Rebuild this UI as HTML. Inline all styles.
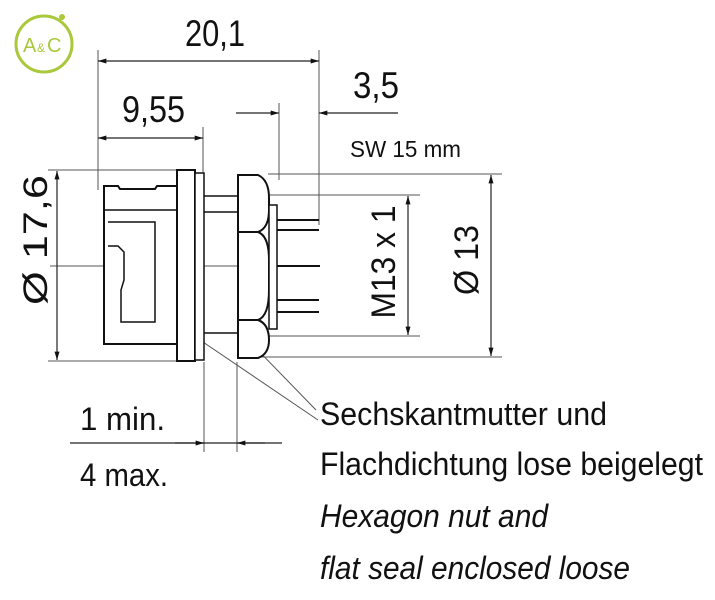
<!DOCTYPE html>
<html><head><meta charset="utf-8"><style>
body{margin:0;background:#fff;width:715px;height:600px;overflow:hidden}
svg{display:block}
text{font-family:"Liberation Sans Narrow","Liberation Sans",sans-serif;fill:#111}
</style></head><body>
<svg width="715" height="600" viewBox="0 0 715 600" xmlns="http://www.w3.org/2000/svg">
<defs>
<marker id="a" viewBox="0 0 10 6" refX="10" refY="3" markerWidth="14" markerHeight="5" orient="auto-start-reverse" markerUnits="userSpaceOnUse"><path d="M0,0L10,3L0,6z" fill="#111"/></marker>
</defs>
<circle cx="44" cy="44" r="28" fill="none" stroke="#a9c93b" stroke-width="3"/>
<circle cx="62" cy="17" r="3" fill="#a9c93b"/>
<text x="23" y="52" font-size="20" style="fill:#a9c93b">A</text><text x="37" y="52" font-size="12" style="fill:#a9c93b">&amp;</text><text x="47" y="52" font-size="20" style="fill:#a9c93b">C</text>
<g stroke="#555" stroke-width="1" fill="none">
<line x1="98" y1="50" x2="98" y2="190"/>
<line x1="319" y1="50" x2="319" y2="225"/>
<line x1="203" y1="127" x2="203" y2="180"/>
<line x1="279" y1="103" x2="279" y2="180"/>
<line x1="48" y1="170" x2="180" y2="170"/>
<line x1="48" y1="361" x2="180" y2="361"/>
<line x1="268" y1="174" x2="502" y2="174"/>
<line x1="250" y1="357" x2="502" y2="357"/>
<line x1="268" y1="195" x2="420" y2="195"/>
<line x1="268" y1="336" x2="420" y2="336"/>
<line x1="204" y1="362" x2="204" y2="452"/>
<line x1="237" y1="362" x2="237" y2="452"/>
<line x1="50" y1="266" x2="290" y2="266"/>
<line x1="200" y1="340" x2="318" y2="420"/>
<line x1="248" y1="340" x2="316" y2="410"/>
</g>
<g stroke="#222" stroke-width="1.2" fill="none">
<line x1="98" y1="61" x2="319" y2="61" marker-start="url(#a)" marker-end="url(#a)"/>
<line x1="98" y1="138" x2="203" y2="138" marker-start="url(#a)" marker-end="url(#a)"/>
<line x1="236" y1="113" x2="279" y2="113" marker-end="url(#a)"/>
<line x1="398" y1="113" x2="319" y2="113" marker-end="url(#a)"/>
<line x1="57" y1="171" x2="57" y2="360" marker-start="url(#a)" marker-end="url(#a)"/>
<line x1="408" y1="196" x2="408" y2="335" marker-start="url(#a)" marker-end="url(#a)"/>
<line x1="491" y1="175" x2="491" y2="356" marker-start="url(#a)" marker-end="url(#a)"/>
<line x1="70" y1="443" x2="282" y2="443"/>
<line x1="175" y1="443" x2="204" y2="443" marker-end="url(#a)"/>
<line x1="265" y1="443" x2="237" y2="443" marker-end="url(#a)"/>
</g>
<g stroke="#111" stroke-width="2" fill="#fff">
<path d="M104,186 L118,186 L120,189 L155,189 L157,186 L177,186 L177,344 L104,344 Z"/>
<line x1="104" y1="210" x2="177" y2="210" stroke-width="1.5"/>
<path d="M108,222 L155,222 L155,322 L121,322 L121,290 L124,280 L124,252 L118,246 L108,246" fill="none" stroke-width="1.5"/>
<rect x="177" y="170" width="18" height="191"/>
<rect x="195" y="173" width="9" height="187" stroke-width="1.5"/>
<line x1="204" y1="196" x2="237" y2="196" stroke-width="1.5"/>
<line x1="204" y1="212" x2="237" y2="212" stroke-width="1.5"/>
<line x1="204" y1="333" x2="237" y2="333" stroke-width="1.5"/>
<path d="M238,175 L258,175 Q269,180 269,198 L269,210 Q269,228 258,232 L238,232 Z"/>
<path d="M238,232 L258,232 Q269,236 269,260 L269,290 Q269,316 258,320 L238,320 Z"/>
<path d="M238,320 L258,320 Q269,324 269,340 Q269,354 258,358 L238,358 Z"/>
<rect x="269" y="205" width="8" height="124" stroke-width="1.5"/>
</g>
<g stroke="#111" stroke-width="2" fill="none">
<path d="M277,220 H319 M277,230 H319 M277,266 H320 M277,300 H319 M277,312 H319"/>
</g>
<g lengthAdjust="spacingAndGlyphs">
<text x="185" y="46" font-size="37" textLength="60" lengthAdjust="spacingAndGlyphs">20,1</text>
<text x="122" y="122" font-size="37" textLength="63" lengthAdjust="spacingAndGlyphs">9,55</text>
<text x="353" y="98" font-size="37" textLength="46" lengthAdjust="spacingAndGlyphs">3,5</text>
<text x="350" y="157" font-size="23" textLength="111" lengthAdjust="spacingAndGlyphs">SW 15 mm</text>
<text transform="translate(47,240) rotate(-90)" text-anchor="middle" font-size="34" textLength="130" lengthAdjust="spacingAndGlyphs">Ø 17,6</text>
<text transform="translate(395,262) rotate(-90)" text-anchor="middle" font-size="34" textLength="113" lengthAdjust="spacingAndGlyphs">M13 x 1</text>
<text transform="translate(478,260) rotate(-90)" text-anchor="middle" font-size="34" textLength="70" lengthAdjust="spacingAndGlyphs">Ø 13</text>
<text x="80" y="430" font-size="32" textLength="85" lengthAdjust="spacingAndGlyphs">1 min.</text>
<text x="80" y="486" font-size="32" textLength="88" lengthAdjust="spacingAndGlyphs">4 max.</text>
<text x="320" y="425" font-size="32" textLength="287" lengthAdjust="spacingAndGlyphs">Sechskantmutter und</text>
<text x="320" y="475" font-size="32" textLength="383" lengthAdjust="spacingAndGlyphs">Flachdichtung lose beigelegt</text>
<text x="320" y="527" font-size="32" font-style="italic" textLength="228" lengthAdjust="spacingAndGlyphs">Hexagon nut and</text>
<text x="320" y="579" font-size="32" font-style="italic" textLength="310" lengthAdjust="spacingAndGlyphs">flat seal enclosed loose</text>
</g>
</svg>
</body></html>
